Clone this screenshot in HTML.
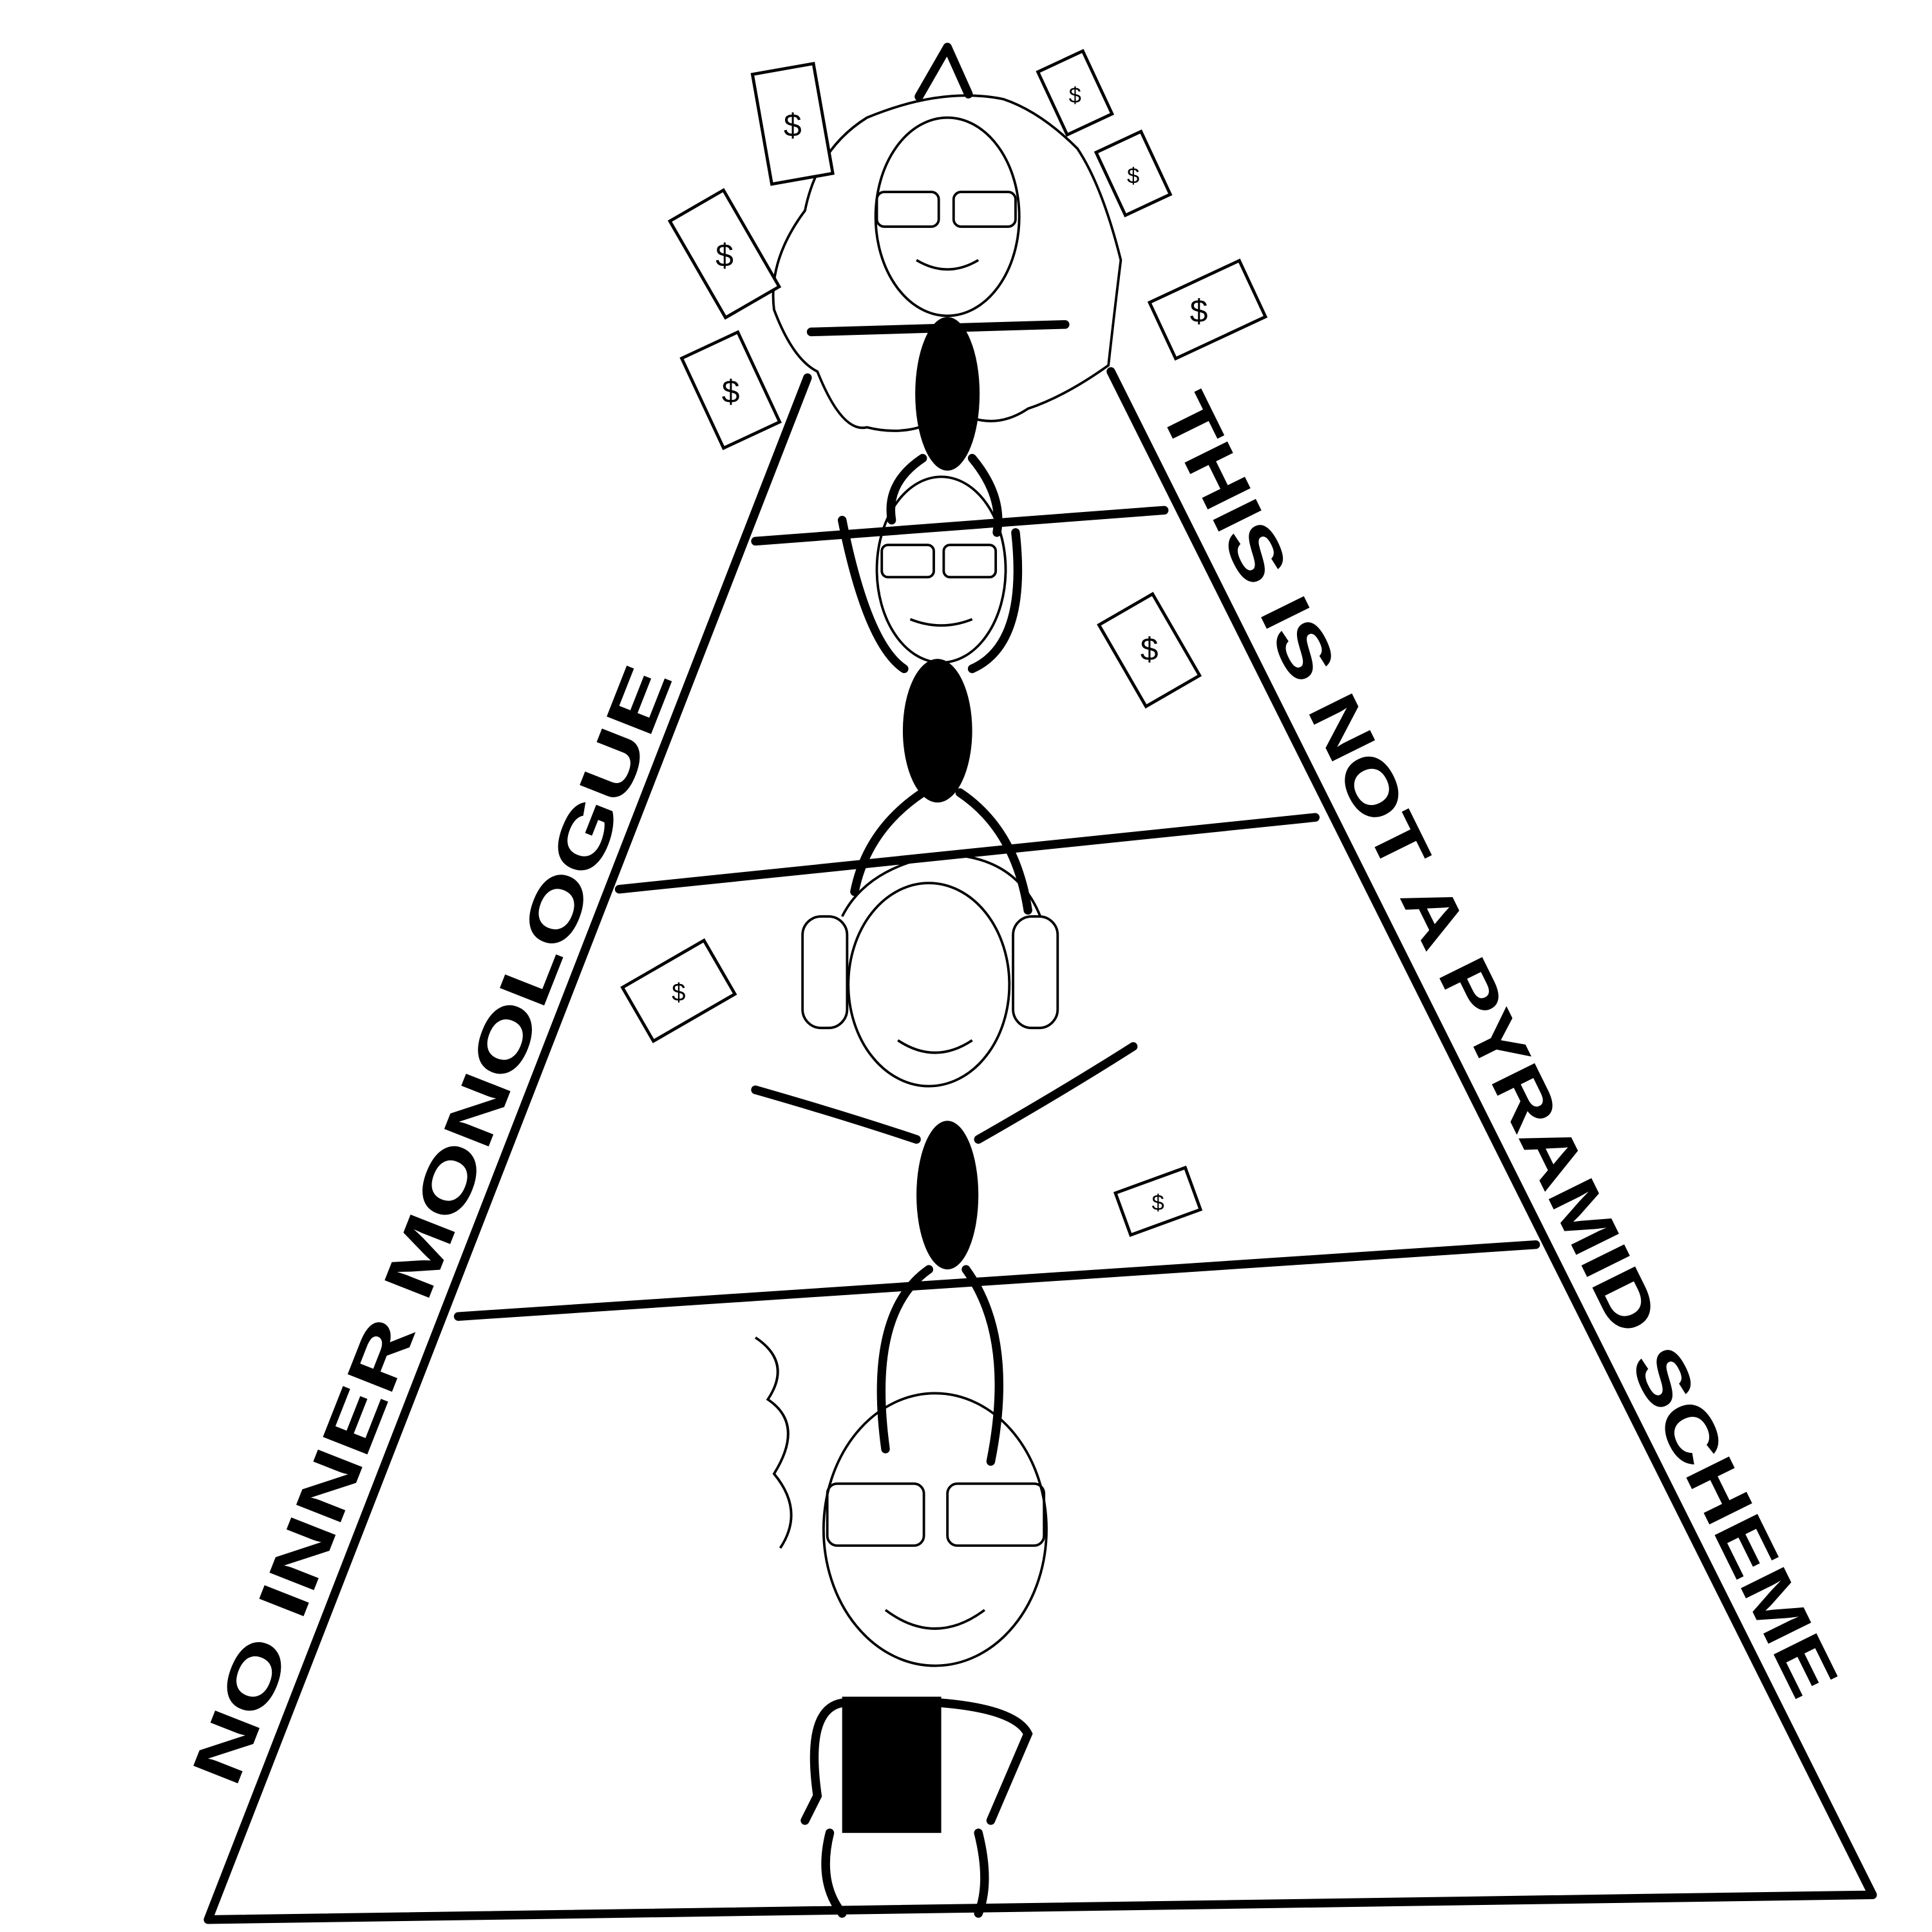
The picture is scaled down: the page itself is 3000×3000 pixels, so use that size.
<!DOCTYPE html>
<html><head><style>html,body{margin:0;padding:0;background:#fff}svg{display:block}</style></head>
<body>
<svg width="3000" height="3000" viewBox="0 0 1560 1560" xmlns="http://www.w3.org/2000/svg">
<rect width="1560" height="1560" fill="#fff"/>
<g stroke="#000" stroke-width="7" fill="none" stroke-linecap="round" stroke-linejoin="round">
<path d="M652 305 L168 1550 L1512 1530 L897 300"/>
<path d="M742 78 L765 38 L782 76"/>
<path d="M610 437 L940 412"/>
<path d="M500 718 L1062 660"/>
<path d="M370 1063 L1240 1005"/>
</g>
<g font-family="Liberation Sans, sans-serif" font-weight="bold" font-size="56" fill="#000">
<text transform="translate(190,1445) rotate(-68.5)" textLength="965" lengthAdjust="spacingAndGlyphs">NO INNER MONOLOGUE</text>
<text transform="translate(935,330) rotate(63.7)" textLength="1165" lengthAdjust="spacingAndGlyphs">THIS IS NOT A PYRAMID SCHEME</text>
</g>
<!-- hair top -->
<g stroke="#000" stroke-width="2" fill="none">
<path d="M700 95 Q660 120 650 170 Q620 210 625 250 Q640 290 660 300 Q680 350 700 345 Q740 355 770 330 Q800 350 830 330 Q860 320 895 295 Q900 250 905 210 Q890 150 870 120 Q840 90 810 80 Q760 70 700 95Z"/>
<ellipse cx="765" cy="175" rx="58" ry="80"/>
<rect x="708" y="155" width="50" height="28" rx="6"/><rect x="770" y="155" width="50" height="28" rx="6"/>
<path d="M740 210 Q765 225 790 210"/>
<ellipse cx="760" cy="460" rx="52" ry="75"/>
<rect x="712" y="440" width="42" height="26" rx="5"/><rect x="762" y="440" width="42" height="26" rx="5"/>
<path d="M735 500 Q760 510 785 500"/>
<ellipse cx="750" cy="795" rx="65" ry="82"/>
<path d="M680 740 Q700 700 760 690 Q820 690 840 740"/>
<rect x="648" y="740" width="36" height="90" rx="15"/><rect x="818" y="740" width="36" height="90" rx="15"/>
<path d="M725 840 Q755 860 785 840"/>
<ellipse cx="755" cy="1235" rx="90" ry="110"/>
<path d="M610 1080 Q640 1100 620 1130 Q650 1150 625 1190 Q650 1220 630 1250"/>
<rect x="668" y="1198" width="78" height="50" rx="8"/><rect x="765" y="1198" width="78" height="50" rx="8"/>
<path d="M715 1300 Q755 1330 795 1300"/>
</g>
<!-- bodies -->
<g fill="#000">
<ellipse cx="765" cy="318" rx="26" ry="62"/>
<ellipse cx="757" cy="590" rx="28" ry="58"/>
<ellipse cx="765" cy="965" rx="25" ry="60"/>
<rect x="680" y="1370" width="80" height="110"/>
</g>
<g stroke="#000" stroke-width="7" fill="none" stroke-linecap="round">
<path d="M655 268 L860 262"/>
<path d="M745 370 Q715 390 720 420"/><path d="M785 370 Q810 400 805 430"/>
<path d="M730 540 Q700 520 680 420"/><path d="M785 540 Q830 520 820 430"/>
<path d="M745 640 Q700 670 690 720"/><path d="M775 640 Q820 670 830 735"/>
<path d="M740 920 Q680 900 610 880"/><path d="M790 920 Q860 880 915 845"/>
<path d="M750 1025 Q700 1060 715 1170"/><path d="M780 1025 Q820 1080 800 1180"/>
<path d="M680 1375 Q650 1380 660 1450 L650 1470"/><path d="M760 1375 Q820 1380 830 1400 L800 1470"/>
<path d="M670 1480 Q660 1520 680 1545"/><path d="M790 1480 Q800 1520 790 1545"/>
</g>
<!-- bills -->
<g stroke="#000" stroke-width="2.5" fill="#fff" font-family="Liberation Sans, sans-serif" font-size="26">
<g transform="translate(640,100) rotate(-10)"><rect x="-25" y="-45" width="50" height="90"/></g>
<g transform="translate(585,205) rotate(-30)"><rect x="-25" y="-45" width="50" height="90"/></g>
<g transform="translate(590,315) rotate(-25)"><rect x="-25" y="-40" width="50" height="80"/></g>
<g transform="translate(868,75) rotate(-25)"><rect x="-20" y="-28" width="40" height="56"/></g>
<g transform="translate(915,140) rotate(-25)"><rect x="-20" y="-28" width="40" height="56"/></g>
<g transform="translate(975,250) rotate(-25)"><rect x="-40" y="-25" width="80" height="50"/></g>
<g transform="translate(928,525) rotate(-30)"><rect x="-25" y="-38" width="50" height="76"/></g>
<g transform="translate(548,800) rotate(-30)"><rect x="-38" y="-25" width="76" height="50"/></g>
<g transform="translate(935,970) rotate(-20)"><rect x="-30" y="-18" width="60" height="36"/></g>
</g>
<g font-family="Liberation Sans, sans-serif" font-size="26" text-anchor="middle" fill="#000">
<text x="640" y="110">$</text><text x="585" y="215">$</text><text x="590" y="325">$</text>
<text x="868" y="83" font-size="18">$</text><text x="915" y="148" font-size="18">$</text>
<text x="968" y="260">$</text><text x="928" y="533">$</text><text x="548" y="808" font-size="20">$</text><text x="935" y="977" font-size="18">$</text>
</g>
</svg>
</body></html>
